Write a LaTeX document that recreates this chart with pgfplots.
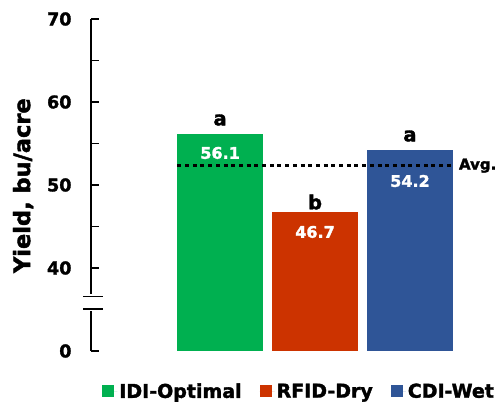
\documentclass[border=0pt]{standalone}
\usepackage{fontspec}
\setmainfont{DejaVu Sans}[BoldFeatures={FakeBold=1.8}]
\usepackage{pgfplots}
\pgfplotsset{compat=1.18}
\usepackage{pgfplotstable}
\definecolor{cgreen}{RGB}{0,176,80}
\definecolor{corange}{RGB}{204,51,0}
\definecolor{cblue}{RGB}{47,85,151}

\pgfplotstableread{
x y
0 56.1
}\idi
\pgfplotstableread{
x y
1 46.7
}\rfid
\pgfplotstableread{
x y
2 54.2
}\cdi
\pgfplotstableread{
x y
-0.45 52.33
2.43 52.33
}\avg

\begin{document}
\begin{tikzpicture}
\useasboundingbox (-91pt,-51pt) rectangle (405pt,351pt);
\begin{axis}[
  at={(0,0)}, anchor=south west,
  scale only axis, width=375pt, height=332pt,
  xmin=-1.36, xmax=2.59, ymin=0, ymax=40,
  axis x line=none,
  axis y line*=left,
  ytick={0,10,20,30,40}, yticklabels={0,40,50,60,70},
  minor ytick={15,25,35},
  tick align=inside,
  major tick length=8pt, minor tick length=8pt,
  every tick/.style={black, line width=1.2pt},
  axis line style={black, line width=1.2pt},
  clip=false,
  yticklabel style={font=\fontsize{17.5}{21}\selectfont\bfseries, xshift=-16pt},
  ylabel={Yield, bu/acre},
  every axis y label/.style={at={(axis description cs:-0.181,0.498)}, rotate=90, anchor=center, font=\fontsize{22.5}{27}\selectfont\bfseries},
  legend columns=3,
  legend style={draw=none, at={(0.555,-0.085)}, anchor=north,
    font=\fontsize{19}{23}\selectfont\bfseries,
    /tikz/every even column/.append style={column sep=16pt},
    legend cell align=left},
  legend image code/.code={\fill[#1] (0pt,-6pt) rectangle (12pt,6pt); \path (0pt,0pt) -- (15pt,0pt);},
]
\addplot[ybar, bar width=0.905, bar shift=0pt, fill=cgreen, draw=none] table[x=x, y expr=\thisrow{y}-30] {\idi};
\addlegendentry{IDI-Optimal}
\addplot[ybar, bar width=0.905, bar shift=0pt, fill=corange, draw=none] table[x=x, y expr=\thisrow{y}-30] {\rfid};
\addlegendentry{RFID-Dry}
\addplot[ybar, bar width=0.905, bar shift=0pt, fill=cblue, draw=none] table[x=x, y expr=\thisrow{y}-30] {\cdi};
\addlegendentry{CDI-Wet}
\addplot[forget plot, black, line width=3.5pt, dash pattern=on 4pt off 3.7pt] table[x=x, y expr=\thisrow{y}-30] {\avg};

% axis break
\fill[white] (axis cs:-1.40,4.82) rectangle (axis cs:-1.32,6.87);
\draw[black, line width=1.2pt] (axis cs:-1.444,5.06) -- (axis cs:-1.234,5.06);
\draw[black, line width=1.2pt] (axis cs:-1.444,6.54) -- (axis cs:-1.234,6.54);

% value labels
\node[white, font=\fontsize{16}{19}\selectfont\bfseries] at (axis cs:0,23.86) {56.1};
\node[white, font=\fontsize{16}{19}\selectfont\bfseries] at (axis cs:1,14.34) {46.7};
\node[white, font=\fontsize{16}{19}\selectfont\bfseries] at (axis cs:2,20.48) {54.2};
% significance letters
\node[font=\fontsize{19.5}{22}\selectfont\bfseries] at (axis cs:0,27.83) {a};
\node[font=\fontsize{19.5}{22}\selectfont\bfseries] at (axis cs:1,17.95) {b};
\node[font=\fontsize{19.5}{22}\selectfont\bfseries] at (axis cs:2,25.90) {a};
% average label
\node[anchor=west, inner sep=0pt, xshift=8pt, font=\fontsize{15}{18}\selectfont\bfseries] at (axis cs:2.43,22.33) {Avg.};
\end{axis}
\end{tikzpicture}
\end{document}
